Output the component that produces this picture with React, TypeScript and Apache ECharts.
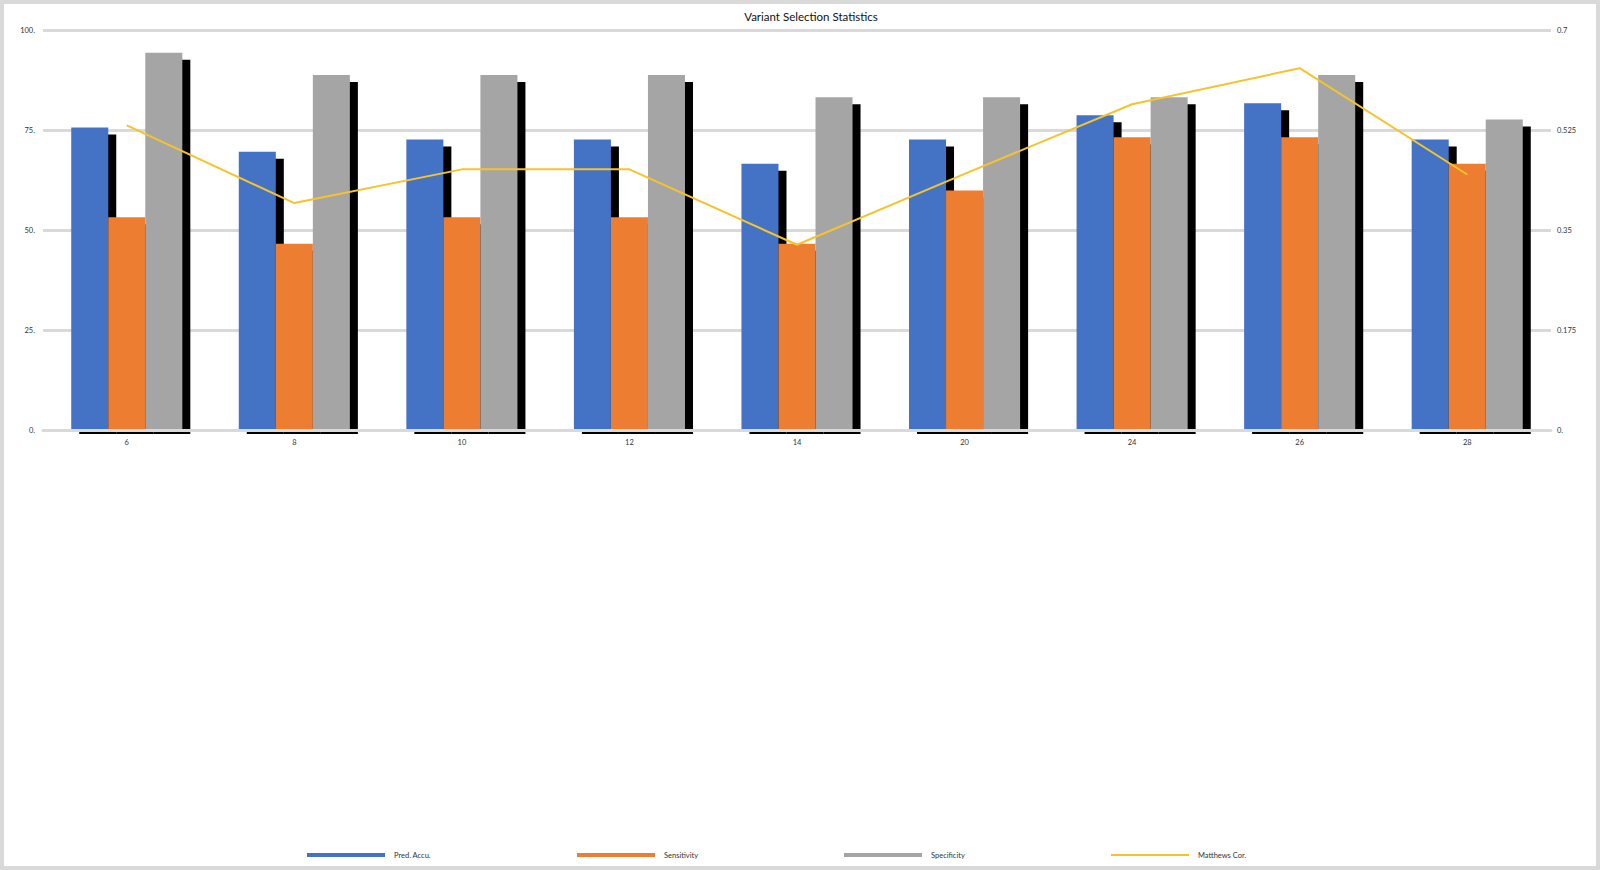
import React, { useEffect, useRef } from "react";
import * as echarts from "echarts";

const categories = ["6", "8", "10", "12", "14", "20", "24", "26", "28"];
const predAccu = [75.76, 69.7, 72.73, 72.73, 66.67, 72.73, 78.79, 81.82, 72.73];
const sensitivity = [53.33, 46.67, 53.33, 53.33, 46.67, 60.0, 73.33, 73.33, 66.67];
const specificity = [94.44, 88.89, 88.89, 88.89, 83.33, 83.33, 83.33, 88.89, 77.78];
const matthews = [0.534, 0.398, 0.457, 0.457, 0.325, 0.449, 0.571, 0.634, 0.448];
const leftTicks = { min: 0, max: 100, interval: 25 };
const rightTicks = { min: 0, max: 0.7, interval: 0.175 };

const FONT = "Lato";
const CAT_GAP = 0.337;

export default function App() {
  const ref = useRef<HTMLDivElement>(null);

  useEffect(() => {
    if (!ref.current) return;
    const chart = echarts.init(ref.current, null, { renderer: "svg" });

    const shadowData = categories.map((_, i) => [i, predAccu[i], sensitivity[i], specificity[i]]);

    const smallText = { fontFamily: FONT, fontSize: 7.5, color: "#333333" };

    const legendItem = (name: string, left: number, h: number) => ({
      data: [{ name, icon: "rect" }],
      left,
      top: 851,
      padding: 0,
      itemWidth: 78,
      itemHeight: h,
      textStyle: { ...smallText, padding: [0, 0, 0, 4] },
    });

    chart.setOption({
      animation: false,
      backgroundColor: "#ffffff",
      graphic: [
        {
          type: "rect",
          shape: { x: 2, y: 2, width: 1596, height: 866 },
          style: { fill: "none", stroke: "#d9d9d9", lineWidth: 4 },
          silent: true,
        },
        {
          type: "text",
          x: 811,
          y: 16.5,
          style: {
            text: "Variant Selection Statistics",
            fontFamily: FONT,
            fontSize: 11.5,
            fill: "#111111",
            textAlign: "center",
            textVerticalAlign: "middle",
          },
        },
      ],
      legend: [
        legendItem("Pred. Accu.", 307, 4),
        legendItem("Sensitivity", 577, 4),
        legendItem("Specificity", 844, 4),
        legendItem("Matthews Cor.", 1111, 2),
      ],
      grid: { left: 43, top: 30.5, width: 1508, height: 400 },
      xAxis: {
        type: "category",
        data: categories,
        z: 3,
        axisLine: { show: true, lineStyle: { color: "#d9d9d9", width: 3 } },
        axisTick: { show: false },
        axisLabel: { ...smallText, margin: 8 },
        splitLine: { show: false },
      },
      yAxis: [
        {
          type: "value",
          ...leftTicks,
          axisLine: { show: false },
          axisTick: { show: false },
          axisLabel: { ...smallText, margin: 8, formatter: (v: number) => `${v}.` },
          splitLine: { show: true, lineStyle: { color: "#d9d9d9", width: 3 } },
        },
        {
          type: "value",
          ...rightTicks,
          position: "right",
          axisLine: { show: false },
          axisTick: { show: false },
          axisLabel: {
            ...smallText,
            margin: 6,
            formatter: (v: number) => (v === 0 ? "0." : `${parseFloat(v.toFixed(3))}`),
          },
          splitLine: { show: false },
        },
      ],
      series: [
        {
          type: "custom",
          name: "shadow",
          z: 1,
          silent: true,
          data: shadowData,
          encode: { x: 0, y: [1, 2, 3] },
          renderItem: (params: any, api: any) => {
            const i = api.value(0);
            const base = api.coord([i, 0]);
            const band = api.size([1, 0])[0];
            const groupW = band * (1 - CAT_GAP);
            const w = groupW / 3;
            const children: any[] = [];
            for (let k = 0; k < 3; k++) {
              const v = api.value(k + 1);
              const top = api.coord([i, v])[1];
              const x = base[0] - groupW / 2 + k * w;
              children.push({
                type: "rect",
                shape: { x: x + 8, y: top + 7, width: w, height: base[1] + 3.5 - (top + 7) },
                style: { fill: "#000000" },
              });
            }
            return { type: "group", children };
          },
        },
        {
          type: "bar",
          name: "Pred. Accu.",
          data: predAccu,
          z: 2,
          barGap: "0%",
          barCategoryGap: `${CAT_GAP * 100}%`,
          itemStyle: { color: "#4472C4" },
        },
        {
          type: "bar",
          name: "Sensitivity",
          data: sensitivity,
          z: 2,
          barGap: "0%",
          barCategoryGap: `${CAT_GAP * 100}%`,
          itemStyle: { color: "#ED7D31" },
        },
        {
          type: "bar",
          name: "Specificity",
          data: specificity,
          z: 2,
          barGap: "0%",
          barCategoryGap: `${CAT_GAP * 100}%`,
          itemStyle: { color: "#A5A5A5" },
        },
        {
          type: "line",
          name: "Matthews Cor.",
          data: matthews,
          yAxisIndex: 1,
          z: 4,
          symbol: "none",
          showSymbol: false,
          lineStyle: { color: "#F5C32C", width: 2 },
          itemStyle: { color: "#F5C32C" },
        },
      ],
    });

    return () => chart.dispose();
  }, []);

  return (
    <div
      ref={ref}
      style={{ position: "fixed", left: 0, top: 0, width: 1600, height: 870 }}
    />
  );
}
